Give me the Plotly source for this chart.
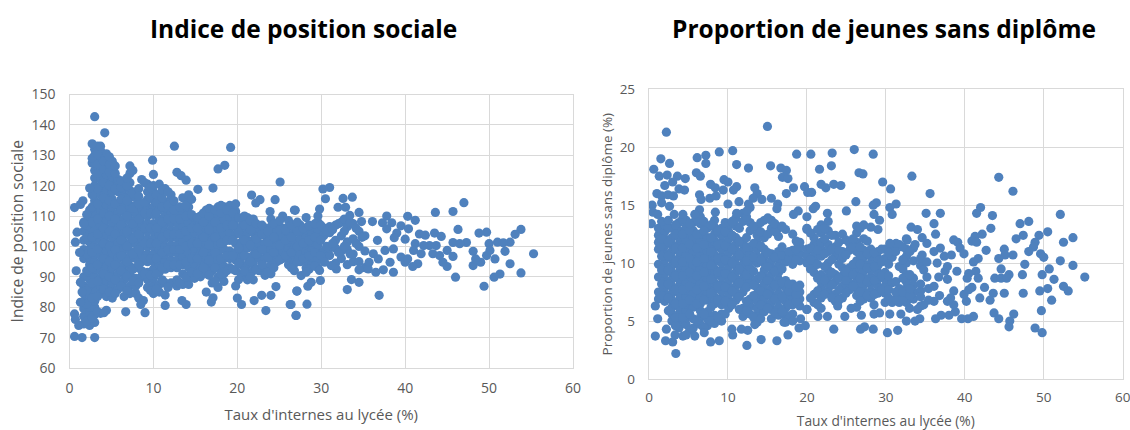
import plotly.graph_objects as go

TITLE_LEFT = "Indice de position sociale"
TITLE_RIGHT = "Proportion de jeunes sans diplôme"
X_LABEL = "Taux d'internes au lycée (%)"
Y_LABEL_LEFT = "Indice de position sociale"
Y_LABEL_RIGHT = "Proportion de jeunes sans diplôme (%)"

# Left panel: dense mass, read as one x value with the y values stacked above it
left_band_x = [1.7, 2.4, 3.0, 3.7, 4.4, 5.1, 5.8, 6.5, 7.2, 7.9, 8.6, 9.3, 10.0, 10.7, 11.4, 12.1, 12.8, 13.5,
               14.2, 14.9, 15.6, 16.3, 17.0, 17.7, 18.4, 19.1, 19.8, 20.5, 21.2, 21.9, 22.6, 23.3, 24.0, 24.7,
               25.4, 26.1, 26.8, 27.5, 28.2, 28.9, 29.6, 30.3, 31.0, 31.7, 32.4, 33.1, 33.8, 34.5, 35.2]
left_band_y = [
    [74.5, 77, 79.5, 82, 84.5, 87, 90, 96, 99, 102, 105, 108],
    [74, 76, 78, 80, 82, 84, 86.5, 89, 91.5, 94, 96.5, 99, 101.5, 104, 106.5, 109, 112],
    [75, 77.5, 80, 82, 85, 87.5, 90, 92.5, 95, 97.5, 100, 102.5, 105, 107.5, 110, 112.5, 115, 117.5, 120, 122.5, 125, 128, 130, 132],
    [78, 84.5, 87, 89.5, 92, 94.5, 97, 99.5, 102, 104.5, 107, 109.5, 112, 114.5, 117, 119.5, 122, 124.5, 127, 129.5, 131.5],
    [79, 83.5, 86, 88.5, 91, 93.5, 96, 98.5, 101, 103.5, 106, 108.5, 111, 113.5, 116, 118.5, 121, 123.5, 126, 128.5, 130.5],
    [83, 85.5, 88, 90.5, 93, 95.5, 98, 100.5, 103, 105.5, 108, 110.5, 113, 115.5, 118, 120.5, 123, 125.5, 128],
    [86, 88.5, 91, 93.5, 96, 98.5, 101, 103.5, 106, 108.5, 111, 113.5, 118, 120.5, 122],
    [83.5, 86.5, 89, 91.5, 94, 96.5, 99, 101.5, 104, 106.5, 109, 111.5, 114, 116.5, 119, 121.5],
    [84.5, 87, 91, 93.5, 96, 98.5, 101, 103.5, 106, 108.5, 111, 113.5, 116, 118.5, 121, 124, 126.5],
    [84.5, 87, 89.5, 93, 96, 98.5, 101, 103.5, 106, 108.5, 111, 113.5, 116, 118],
    [90, 92, 95, 97.5, 100, 102.5, 105, 107.5, 110, 112.5, 122],
    [86.5, 89, 91.5, 95, 97.5, 100, 102.5, 105, 107.5, 110, 113, 115.5, 118, 120.5],
    [84.5, 87, 89.5, 92.5, 95, 97.5, 100, 102.5, 105, 107.5, 110.5, 113, 115.5, 118, 120],
    [85, 87.5, 91.5, 94, 96.5, 99, 101.5, 104, 106.5, 109, 112, 114.5, 117, 120.5],
    [84, 88, 92.5, 95, 97.5, 100, 102.5, 105, 107.5, 110, 112.5, 114.5, 119],
    [88, 93, 95.5, 98, 100.5, 103, 105.5, 108, 110.5, 113, 115.5, 117],
    [87, 89, 93, 95.5, 98, 100.5, 103, 105.5, 108, 110.5, 112.5],
    [87.5, 91, 94, 96.5, 99, 101.5, 104, 106.5, 109, 111.5, 116],
    [87.5, 90, 93, 95.5, 98, 100.5, 103, 105.5, 108, 110.5, 113, 115, 117],
    [89.5, 92, 94.5, 97, 99.5, 102, 104.5, 107, 109.5],
    [90, 92.5, 95, 97.5, 100, 102.5, 105, 107.5, 110],
    [85, 91, 93.5, 96, 98.5, 101, 103.5, 106, 108.5, 112],
    [88, 92, 94.5, 97, 99.5, 102, 104.5, 107, 109.5, 112],
    [86.5, 90, 93, 95.5, 98, 100.5, 103, 105.5, 108, 110.5, 113],
    [88.5, 91, 93.5, 96, 99, 101.5, 104, 106.5, 109, 111.5, 113],
    [93, 96, 98.5, 102, 104.5, 107, 109.5, 112, 113.5],
    [87, 92, 95.5, 98, 101, 104, 106.5, 109, 111.5, 114],
    [90.5, 94, 96.5, 99, 101.5, 104, 106.5, 109],
    [89, 91.5, 94, 96.5, 99.5, 102, 104.5, 107, 109.5],
    [89, 92, 94.5, 97, 99.5, 102, 104.5, 107, 109],
    [92, 96, 98.5, 101, 103.5, 106],
    [90.5, 93, 96, 98.5, 101, 103.5, 106],
    [91, 94, 96.5, 99, 101.5, 104, 106.5, 109],
    [95, 97.5, 100, 102.5, 105, 107.5],
    [96, 98.5, 101, 103.5, 106, 110],
    [94, 96.5, 99, 101.5, 104, 106.5, 108.5],
    [92, 94.5, 97, 99.5, 102, 104.5, 107],
    [95, 97.5, 100, 102.5, 105, 107],
    [93, 95.5, 98, 100.5, 103, 105.5, 109.5],
    [94, 96.5, 99, 101.5, 104, 106.5],
    [93, 95.5, 98, 100.5, 103, 105.5, 108, 110],
    [96, 98.5, 103.5, 106],
    [97, 99.5, 104.5, 106.5],
    [94.5, 99.5, 102, 107],
    [96, 98.5, 103.5, 108],
    [94, 99, 101.5, 106.5],
    [95, 97.5, 102.5, 107.5],
    [95, 100, 105],
    [93, 98.5, 103.5],
]

# Left panel: second pass over the same mass, between the first-pass x values
left_fill_x = [2.05, 2.7, 3.35, 4.05, 4.75, 5.45, 6.15, 6.85, 7.55, 8.25, 8.95, 9.65, 10.35, 11.05, 11.75, 12.45, 13.15, 13.85,
               14.55, 15.25, 15.95, 16.65, 17.35, 18.05, 18.75, 19.45, 20.15, 20.85, 21.55, 22.25, 22.95, 23.65, 24.35, 25.05,
               25.75, 26.45, 27.15, 27.85, 28.55, 29.25, 29.95, 30.65, 31.35, 32.05, 32.75, 33.45, 34.15, 34.85]
left_fill_y = [
    [75.5, 81, 85.5, 92, 97.5, 103, 107, 110.5],
    [76.5, 83, 88, 93, 98, 103, 108, 113, 117, 127.5, 129],
    [78.5, 83.5, 88.5, 94, 99, 104, 109, 114, 119, 124, 127, 130.5, 133],
    [86, 91, 96, 101, 106, 111, 116, 121, 125.5, 128],
    [85, 90, 95, 100, 105, 110, 115, 120, 124.5, 127, 129.5],
    [84.5, 89, 94, 99, 104, 109, 114, 119, 124, 126.5],
    [87, 92, 97, 102, 107, 112, 115.5, 119.5, 121.5],
    [85.5, 90, 95, 100, 105, 110, 115, 120, 122.5],
    [88.5, 92.5, 97.5, 102.5, 107.5, 112.5, 117.5, 125],
    [83, 88, 94, 99, 104, 109, 114, 119, 116.5],
    [91, 96, 101, 106, 111, 114.5, 121],
    [85.5, 90.5, 96, 101, 106, 111, 116, 119.5],
    [86, 91, 96, 101, 106, 111, 114.5, 117],
    [89, 93, 98, 103, 108, 113, 116, 118.5],
    [86.5, 94, 99, 104, 109, 113.5, 118],
    [94, 99, 104, 109, 112, 115],
    [88, 94, 99, 104, 109, 113],
    [90, 95, 100, 105, 110, 113.5],
    [91.5, 96, 101, 106, 110.5, 115.5],
    [91, 96, 101, 106, 109.5],
    [93, 98, 103, 108, 111],
    [90.5, 95.5, 100.5, 105.5, 110, 112.5],
    [88.5, 93, 98, 103, 108, 112],
    [91, 96, 101, 106, 111, 113.5],
    [92, 97, 102, 107, 112],
    [92.5, 97, 102, 107, 111],
    [89, 94.5, 99.5, 104.5, 109.5],
    [92, 97, 102, 107, 110],
    [90, 95, 100.5, 105.5, 108.5],
    [92.5, 97.5, 102.5, 107.5],
    [94, 99, 104, 107],
    [91.5, 96.5, 101.5, 105],
    [93, 98, 103, 107.5],
    [95.5, 100.5, 105.5, 108.5],
    [97, 102, 105.5],
    [93, 98, 103, 107],
    [95, 100, 105, 108],
    [96, 101, 106],
    [92.5, 97, 102, 107],
    [93.5, 98, 103, 107.5],
    [97, 102, 107],
    [100, 105],
    [101, 105.5],
    [98, 107.5],
    [100, 105, 109],
    [97.5, 108],
    [101, 106],
    [103],
]

# Left panel: individually readable points
left_x = [3.0, 4.2, 2.7, 3.7, 12.5, 19.2, 9.9, 10.0, 18.5, 17.7, 12.8, 13.3, 13.9, 25.1, 17.1, 15.3, 21.7, 22.7, 22.2, 24.5,
          23.9, 26.9, 0.6, 1.3, 1.6, 2.4, 0.6, 1.5, 3.0, 6.7, 9.0, 4.1, 23.4, 27.0, 11.4, 8.8, 8.5, 13.4, 13.9, 16.9,
          17.1, 20.5, 20.0, 22.0, 22.9, 24.0, 24.6, 26.3, 27.1, 0.9, 0.7, 1.2, 0.8, 1.3, 1.5, 1.3, 0.6, 0.7, 1.1, 1.7,
          31.0, 30.2, 30.5, 32.6, 33.7, 32.0, 32.9, 29.8, 26.8, 43.6, 45.7, 47.0, 34.5, 33.4, 37.8, 40.3, 41.2, 34.8, 36.1, 37.3,
          38.4, 39.5, 40.4, 53.8, 53.1, 46.3, 49.7, 48.8, 41.7, 42.4, 43.5, 44.3, 39.0, 38.7, 40.0, 45.7, 47.3, 46.5, 51.0, 50.0,
          52.5, 51.7, 55.3, 51.9, 50.7, 52.5, 53.8, 51.3, 50.6, 49.4, 46.0, 48.1, 48.1, 49.0, 48.4, 49.7, 50.1, 43.3, 44.1, 45.0,
          45.7, 44.5, 45.0, 43.7, 42.9, 42.2, 41.2, 41.0, 41.9, 41.5, 40.9, 40.0, 39.5, 40.3, 36.9, 33.1, 34.5, 33.6, 29.9, 28.8,
          28.4, 27.1, 28.3, 26.4, 27.0, 29.8, 27.6, 28.2, 38.6, 37.4, 36.5, 35.6, 34.5, 38.2, 38.6, 37.6, 36.7, 36.2, 36.8, 35.7,
          37.8, 31.8, 31.2, 30.4]
left_y = [142.7, 137.4, 133.8, 133.0, 133.0, 132.6, 128.4, 123.7, 126.7, 125.5, 124.4, 123.3, 121.8, 121.2, 119.2, 118.8, 116.9, 115.4, 114.3, 115.4,
          111.5, 111.9, 112.8, 113.8, 115.0, 119.2, 70.4, 70.0, 70.0, 78.5, 78.2, 78.2, 78.9, 77.3, 80.6, 82.2, 80.9, 82.2, 80.9, 81.7,
          83.1, 80.9, 83.0, 82.2, 83.9, 83.9, 86.8, 80.9, 85.3, 104.7, 101.4, 98.0, 92.0, 88.2, 85.0, 81.6, 77.8, 76.0, 74.0, 107.5,
          119.4, 118.9, 115.7, 115.8, 116.2, 112.9, 112.9, 112.3, 112.0, 111.2, 111.5, 114.4, 111.2, 110.2, 110.0, 109.9, 108.6, 108.2, 108.2, 107.8,
          107.8, 106.8, 105.8, 105.6, 104.0, 105.6, 104.7, 104.4, 104.1, 103.7, 104.4, 103.3, 104.4, 102.9, 102.4, 101.3, 101.3, 100.9, 101.4, 100.9,
          101.4, 101.2, 97.6, 98.4, 95.9, 94.3, 91.3, 90.9, 89.9, 86.9, 89.9, 98.4, 93.7, 94.8, 95.9, 97.0, 98.7, 97.6, 97.0, 98.7,
          96.7, 94.8, 93.4, 100.3, 100.3, 100.3, 100.9, 98.7, 97.6, 94.3, 93.4, 94.8, 96.5, 95.9, 83.9, 85.8, 88.2, 89.1, 88.8, 88.2,
          86.9, 85.3, 81.0, 80.9, 77.3, 92.1, 90.4, 91.5, 91.5, 92.3, 91.5, 92.6, 92.3, 94.8, 99.2, 98.7, 102.0, 97.6, 95.9, 94.8,
          105.8, 92.6, 93.7, 94.8]

# Right panel: dense mass, read as one x value with the y values stacked above it
right_band_x = [1.2, 2.0, 2.9, 3.8, 4.7, 5.6, 6.5, 7.4, 8.3, 9.2, 10.1, 11.0, 11.9, 12.8, 13.7, 14.6, 15.5, 16.4,
                17.3, 18.2, 19.1, 20.0, 20.9, 21.8, 22.7, 23.6, 24.5, 25.4, 26.3, 27.2, 28.1, 29.0, 29.9, 30.8,
                31.7, 32.6, 33.5, 34.4]
right_band_y = [
    [6.9, 7.5, 8.8, 9.9, 11.2, 11.8, 12.4, 13.0],
    [6.7, 7.3, 7.9, 8.5, 9.1, 9.7, 10.3, 10.9, 11.5, 12.1, 12.7, 13.3],
    [5.0, 5.6, 6.2, 6.8, 7.4, 8.0, 8.6, 9.2, 9.8, 10.4, 11.0, 11.6, 12.2, 13.0],
    [4.4, 5.0, 5.6, 6.2, 6.8, 7.4, 8.0, 8.6, 9.2, 9.8, 10.4, 11.0, 11.6, 12.2, 12.8, 13.5],
    [4.7, 5.3, 5.9, 6.5, 7.1, 7.7, 8.3, 8.9, 9.5, 10.1, 10.7, 11.3, 11.9, 12.5, 13.1, 13.7],
    [4.4, 5.2, 6.2, 6.8, 7.4, 8.0, 8.6, 9.2, 9.8, 10.4, 11.0, 11.6, 12.2, 12.8, 13.5],
    [4.7, 5.3, 5.9, 6.5, 7.1, 7.7, 8.3, 8.9, 9.5, 10.1, 10.7, 11.3, 11.9, 12.5, 13.4, 14.0],
    [4.6, 5.2, 5.8, 6.8, 7.4, 8.0, 8.6, 9.2, 9.8, 10.4, 11.0, 11.6, 12.2, 13.0],
    [4.8, 5.5, 6.5, 7.1, 7.7, 8.3, 8.9, 9.5, 10.1, 10.7, 11.3, 11.9, 12.5, 13.1, 13.7],
    [5.0, 5.6, 6.4, 7.0, 7.6, 8.2, 8.8, 9.4, 10.0, 10.6, 11.2, 11.8, 12.4, 13.0],
    [6.1, 6.7, 7.3, 7.9, 8.5, 9.1, 9.7, 10.3, 10.9, 11.5, 12.1, 12.7, 13.3],
    [6.8, 7.4, 8.0, 8.6, 9.2, 9.8, 10.4, 11.0, 11.6, 12.2, 13.2, 13.9],
    [5.4, 6.1, 7.5, 8.1, 8.7, 9.3, 9.9, 10.5, 11.1, 11.7, 13.6, 14.3],
    [5.6, 6.3, 6.9, 8.4, 9.0, 9.6, 10.2, 10.8, 11.4, 12.8, 13.5, 14.8],
    [4.9, 5.5, 6.1, 6.7, 7.3, 7.9, 8.6, 10.0, 10.6, 11.2, 11.8, 12.4, 13.0],
    [5.8, 6.4, 7.0, 7.6, 8.2, 8.8, 9.4, 10.0, 10.6, 11.2, 12.2, 13.7],
    [5.2, 6.0, 6.6, 7.2, 7.8, 8.4, 9.0, 9.6, 10.2, 10.8, 13.0, 13.7],
    [5.5, 6.2, 6.8, 7.4, 8.0, 8.6, 9.2, 9.8, 10.4, 11.0, 12.3, 13.0],
    [4.9, 5.5, 6.1, 6.7, 7.3, 7.9, 8.5, 10.1, 10.7, 12.9],
    [5.6, 6.4, 7.0, 7.6, 8.2, 9.9, 10.5, 11.1, 12.5],
    [6.3, 6.9, 7.5, 8.1, 10.2, 10.8, 11.4, 11.8],
    [6.0, 10.0, 10.6, 11.2, 12.9, 13.0, 14.0],
    [6.6, 7.3, 9.2, 9.8, 10.4, 11.0, 11.6, 12.2],
    [6.1, 7.0, 7.8, 8.4, 9.0, 10.6, 11.2, 11.8, 12.6, 13.3],
    [7.6, 8.2, 8.8, 9.4, 10.0, 11.0, 11.6, 12.8, 13.6],
    [6.7, 7.3, 8.4, 9.0, 10.6, 11.4, 12.4],
    [7.0, 8.0, 8.9, 9.6, 10.4, 11.0, 12.5],
    [7.7, 8.3, 9.0, 9.6, 11.1, 11.7],
    [6.2, 7.2, 7.8, 8.4, 9.0, 9.6, 10.2, 11.0, 11.8, 12.6, 13.2],
    [6.9, 7.5, 8.1, 8.7, 9.3, 9.9, 10.5, 11.1, 12.1, 13.3],
    [7.0, 7.6, 8.2, 8.8, 9.4, 10.0, 10.6, 11.2, 13.1],
    [7.4, 8.0, 8.6, 9.2, 9.8, 10.4, 11.0, 12.9],
    [6.6, 7.4, 8.0, 8.6, 9.2, 10.4, 11.2],
    [6.6, 8.3, 10.5, 11.3],
    [6.6, 7.2, 7.8, 9.7, 11.6],
    [6.6, 7.2, 7.8, 8.4, 9.0, 10.0, 10.6, 11.2, 12.1],
    [6.9, 7.5, 8.1, 8.7, 10.2, 11.3],
    [6.3, 7.6, 8.2, 9.8, 10.4],
]

# Right panel: second pass over the same mass, between the first-pass x values
right_fill_x = [1.6, 2.45, 3.35, 4.25, 5.15, 6.05, 6.95, 7.85, 8.75, 9.65, 10.55, 11.45, 12.35, 13.25, 14.15, 15.05, 15.95, 16.85,
                17.75, 18.65, 20.45, 21.35, 22.25, 23.15, 24.05, 24.95, 25.85, 26.75, 27.65, 28.55, 29.45, 30.35, 31.25, 32.15, 33.05]
right_fill_y = [
    [7.2, 8.2, 9.4, 10.6, 11.5, 12.1, 13.6],
    [5.9, 7.0, 8.2, 9.4, 10.6, 11.8, 13.0, 13.7],
    [4.6, 5.3, 6.5, 7.7, 8.9, 10.1, 11.3, 12.5, 13.3],
    [5.3, 6.5, 7.7, 8.9, 10.1, 11.3, 12.5, 13.8],
    [4.2, 5.6, 6.8, 8.0, 9.2, 10.4, 11.6, 12.8, 13.4],
    [5.0, 6.5, 7.7, 8.9, 10.1, 11.3, 12.5, 13.8],
    [4.4, 5.6, 6.8, 8.0, 9.2, 10.4, 11.6, 12.8, 13.6],
    [5.0, 6.2, 7.4, 8.6, 9.8, 11.0, 12.2, 13.3],
    [5.3, 6.8, 8.0, 9.2, 10.4, 11.6, 12.8],
    [5.6, 6.7, 7.9, 9.1, 10.3, 11.5, 12.7, 13.5],
    [6.4, 7.6, 8.8, 10.0, 11.2, 12.4, 13.6],
    [6.0, 7.1, 8.3, 9.5, 10.7, 11.9, 13.0],
    [5.9, 6.7, 7.9, 9.0, 10.2, 11.4, 12.2, 14.0],
    [5.3, 7.2, 8.1, 9.3, 10.5, 11.7, 13.2],
    [5.2, 6.4, 7.6, 8.9, 10.3, 11.5, 12.7, 13.5],
    [6.1, 7.3, 8.5, 9.7, 10.9, 12.5, 13.9],
    [5.7, 6.9, 8.1, 9.3, 10.5, 12.7, 13.4],
    [5.8, 7.1, 8.3, 9.5, 10.7, 11.4, 13.2],
    [5.2, 6.4, 7.6, 8.2, 10.4, 11.0],
    [6.7, 7.3, 7.9, 10.3, 11.2, 11.9],
    [7.0, 9.5, 10.3, 11.3, 12.6],
    [6.4, 7.6, 8.7, 9.9, 11.1, 12.9],
    [7.3, 8.5, 9.7, 10.8, 12.1, 13.0],
    [7.0, 8.1, 9.2, 10.3, 11.2, 12.4],
    [6.8, 7.7, 8.7, 9.9, 11.1, 11.8],
    [7.4, 8.5, 9.3, 10.7, 12.0],
    [8.0, 9.0, 9.9, 11.4, 12.1],
    [6.7, 7.5, 8.7, 9.9, 10.7, 11.4, 13.0],
    [7.2, 8.4, 9.6, 10.8, 11.9],
    [7.3, 8.5, 9.7, 10.9],
    [7.7, 8.9, 10.1, 11.2],
    [7.0, 7.7, 8.9, 9.9, 10.9],
    [6.9, 7.5, 8.4, 11.0],
    [6.9, 7.5, 8.7, 9.5, 10.3, 11.4],
    [7.2, 7.8, 9.0, 11.0],
]

# Right panel: individually readable points
right_x = [2.2, 15.0, 10.6, 8.9, 7.2, 6.1, 7.2, 1.5, 2.6, 0.6, 11.1, 12.6, 15.4, 18.7, 20.5, 23.2, 23.1, 26.0, 21.6, 16.7,
           17.4, 16.9, 17.6, 18.3, 17.4, 21.8, 22.4, 23.4, 24.3, 19.7, 20.1, 20.6, 26.6, 1.3, 2.3, 3.6, 4.6, 2.0, 3.0, 3.8,
           4.5, 6.0, 6.5, 7.8, 9.5, 10.0, 11.1, 10.7, 13.4, 9.4, 8.4, 13.7, 1.0, 1.6, 2.4, 3.1, 6.4, 7.7, 8.5, 6.6,
           15.5, 14.3, 13.2, 11.4, 16.3, 16.2, 10.0, 12.6, 26.2, 25.0, 21.1, 20.8, 18.9, 18.3, 22.6, 0.4, 1.6, 2.6, 0.5, 0.3,
           1.1, 3.2, 4.3, 6.4, 5.8, 8.4, 11.1, 12.4, 3.4, 0.8, 2.1, 3.0, 7.8, 8.9, 12.4, 14.2, 16.2, 17.6, 10.6, 10.5,
           23.4, 26.8, 0.8, 1.1, 2.2, 7.0, 5.8, 4.3, 3.3, 4.7, 11.7, 12.5, 13.4, 19.0, 19.8, 19.2, 18.2, 17.1, 24.8, 22.6,
           21.4, 25.6, 23.9, 20.0,
           28.4, 33.3, 44.3, 29.6, 30.6, 35.6, 46.1, 27.1, 28.8, 28.4, 31.3, 30.5, 42.0, 41.5, 35.1, 36.9, 43.5, 52.1, 30.8, 28.5,
           48.1, 47.0, 36.1, 29.2, 33.2, 34.0, 43.3, 50.5, 49.4, 36.3, 53.7, 47.4, 46.5, 42.2, 41.3, 52.5, 48.9, 38.6, 39.1, 40.9,
           41.5, 48.7, 48.1, 42.7, 45.0, 46.1, 45.1, 44.3, 49.6, 50.0, 52.1, 53.7, 47.6, 50.7, 49.8, 55.2, 51.3, 47.3, 44.6, 45.6,
           43.8, 44.6, 45.3, 41.7, 41.1, 39.4, 39.9, 52.5, 53.1, 50.5, 49.5, 47.4, 45.0, 42.5, 43.6, 41.9, 43.2, 51.0, 49.7, 46.2,
           43.7, 45.7, 44.3, 45.6, 48.9, 49.8, 41.1, 40.4, 39.6, 38.0, 37.0, 36.3, 38.8, 38.6, 40.2, 39.9, 40.9, 40.5, 38.6, 38.2,
           37.8, 31.5, 30.2, 28.4, 27.3, 34.3, 33.7, 32.6, 31.9, 30.5, 29.2, 28.5, 33.0, 34.0, 28.5, 26.9, 39.0, 37.8, 36.7, 37.5,
           36.9, 36.1, 36.5, 38.3, 37.4, 37.8, 40.5, 41.4, 41.7, 40.3, 35.2, 34.6, 33.7, 32.7, 31.3, 30.5, 34.6, 35.2, 34.8, 35.2,
           36.1, 35.4, 36.8, 36.1, 35.4, 34.8, 34.4]
right_y = [21.3, 21.8, 19.7, 19.6, 19.3, 19.1, 18.6, 19.0, 18.6, 18.1, 18.5, 18.2, 18.4, 19.4, 19.4, 19.5, 18.4, 19.8, 18.1, 18.2,
           18.0, 17.4, 17.3, 16.5, 16.0, 16.8, 16.5, 16.8, 16.7, 16.6, 16.1, 16.1, 17.8, 17.5, 17.6, 17.5, 17.3, 16.7, 17.0, 16.4,
           16.3, 17.8, 17.5, 16.8, 17.2, 17.0, 16.6, 16.3, 16.5, 16.3, 16.5, 16.0, 16.0, 15.8, 15.9, 15.8, 15.9, 15.6, 15.8, 15.5,
           15.6, 15.5, 15.6, 15.3, 15.1, 14.7, 15.1, 15.1, 15.3, 14.5, 14.9, 14.7, 14.5, 14.2, 14.3, 15.0, 15.2, 14.9, 14.4, 13.4,
           14.2, 14.2, 14.2, 14.6, 14.2, 14.4, 14.3, 14.5, 2.2, 3.7, 3.3, 3.2, 3.2, 3.3, 2.9, 3.4, 3.3, 3.8, 3.8, 4.3,
           4.3, 4.3, 6.3, 5.2, 4.3, 4.0, 3.7, 3.7, 3.8, 3.8, 4.3, 4.2, 4.7, 4.4, 4.6, 5.2, 5.0, 4.9, 5.4, 5.4,
           5.4, 6.1, 6.3, 6.0,
           19.4, 17.5, 17.4, 17.0, 16.4, 16.0, 16.2, 17.7, 15.2, 15.0, 15.1, 14.8, 14.8, 14.3, 14.3, 14.3, 14.1, 14.2, 14.2, 14.2,
           13.6, 13.4, 13.4, 13.7, 13.1, 12.9, 13.0, 12.7, 12.4, 12.5, 12.2, 12.4, 12.1, 12.5, 12.3, 11.8, 11.8, 12.0, 11.8, 11.9,
           11.8, 11.4, 11.0, 11.1, 11.2, 10.7, 10.7, 10.4, 10.8, 10.5, 10.2, 9.8, 9.9, 9.5, 9.0, 8.8, 8.6, 9.0, 9.5, 9.0,
           8.7, 8.7, 8.7, 10.4, 10.1, 11.3, 10.8, 8.0, 7.6, 7.8, 7.6, 7.4, 7.4, 7.9, 7.4, 7.0, 6.8, 6.8, 5.9, 5.6,
           5.7, 5.0, 5.2, 4.5, 4.4, 4.0, 5.4, 5.2, 5.2, 5.5, 5.5, 5.2, 5.8, 6.4, 6.7, 7.3, 7.9, 7.7, 7.6, 7.0,
           6.7, 4.2, 4.0, 4.3, 4.5, 5.2, 5.0, 5.0, 5.6, 5.6, 5.7, 5.6, 6.1, 6.0, 6.4, 5.5, 9.3, 8.6, 8.8, 9.3,
           11.3, 11.0, 10.0, 10.7, 10.6, 9.7, 9.1, 9.3, 8.7, 8.7, 11.7, 12.2, 11.6, 12.0, 11.7, 11.7, 10.7, 10.1, 9.4, 8.8,
           8.0, 7.8, 7.2, 6.7, 6.8, 6.4, 7.1]

x_ticks = [0, 10, 20, 30, 40, 50, 60]
y_ticks_left = [60, 70, 80, 90, 100, 110, 120, 130, 140, 150]
y_ticks_right = [0, 5, 10, 15, 20, 25]


def flatten(extra_x, extra_y, *pairs):
    xs, ys_out = [], []
    for col_x, col_y in pairs:
        for x, ys in zip(col_x, col_y):
            xs += [x] * len(ys)
            ys_out += ys
    return xs + extra_x, ys_out + extra_y


lx, ly = flatten(left_x, left_y, (left_band_x, left_band_y), (left_fill_x, left_fill_y))
rx, ry = flatten(right_x, right_y, (right_band_x, right_band_y), (right_fill_x, right_fill_y))

MARK = "#4f81bd"
GRID = "#d9d9d9"
TICK = "#595959"
W, H = 1130, 430
marker = dict(color=MARK, size=9.2, line=dict(width=0))

fig = go.Figure()
fig.add_trace(go.Scatter(x=lx, y=ly, mode="markers", marker=marker, xaxis="x", yaxis="y", showlegend=False))
fig.add_trace(go.Scatter(x=rx, y=ry, mode="markers", marker=marker, xaxis="x2", yaxis="y2", showlegend=False))


def axis(size, standoff, **kw):
    base = dict(showgrid=True, gridcolor=GRID, gridwidth=1.4, zeroline=False, showline=True, linecolor=GRID,
                linewidth=1.4, mirror=True, ticks="", tickfont=dict(family="Open Sans", size=size, color=TICK),
                tickmode="array", automargin=False, ticklabelstandoff=standoff, ticklabeloverflow="allow")
    base.update(kw)
    return base


def title(text, size, standoff):
    return dict(text=text, font=dict(family="Open Sans", size=size, color=TICK), standoff=standoff)


fig.update_layout(
    width=W, height=H, autosize=False, margin=dict(l=0, r=0, t=0, b=0),
    paper_bgcolor="white", plot_bgcolor="white",
    xaxis=axis(14, 7, domain=[69.5 / W, 573 / W], range=[0, 60], tickvals=x_ticks, anchor="y",
               title=title(X_LABEL, 15, 13)),
    yaxis=axis(14, 10, domain=[1 - 368 / H, 1 - 94.5 / H], range=[60, 150], tickvals=y_ticks_left, anchor="x",
               title=title(Y_LABEL_LEFT, 15.6, 4)),
    xaxis2=axis(13.5, 6, domain=[649 / W, 1122.7 / W], range=[0, 60], tickvals=x_ticks, anchor="y2",
                title=title(X_LABEL, 13.8, 10)),
    yaxis2=axis(13.5, 10, domain=[1 - 379 / H, 1 - 89.3 / H], range=[0, 25], tickvals=y_ticks_right, anchor="x2",
                title=title(Y_LABEL_RIGHT, 13.5, 3)),
    annotations=[
        dict(text=f"<b>{TITLE_LEFT}</b>", xref="paper", yref="paper", x=303 / W, y=1 - 28 / H, showarrow=False,
             xanchor="center", yanchor="middle", font=dict(family="Open Sans", size=24.5, color="black")),
        dict(text=f"<b>{TITLE_RIGHT}</b>", xref="paper", yref="paper", x=884 / W, y=1 - 28 / H, showarrow=False,
             xanchor="center", yanchor="middle", font=dict(family="Open Sans", size=24.5, color="black")),
    ],
)

fig.write_html("out.html", config={"displayModeBar": False}, post_script="document.body.style.margin='0';")
